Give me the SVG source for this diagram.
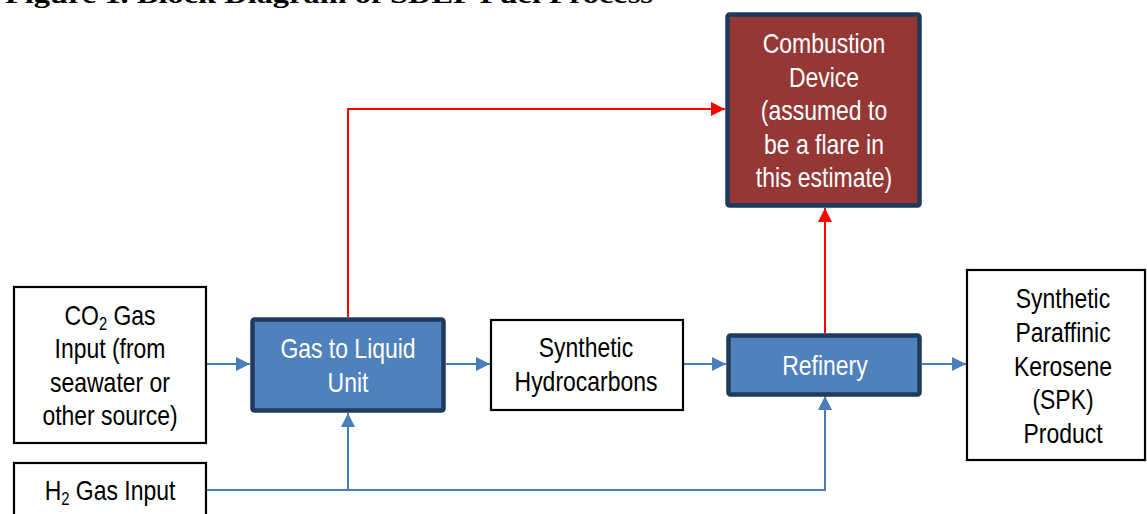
<svg xmlns="http://www.w3.org/2000/svg" width="1147" height="514" viewBox="0 0 1147 514">
<style>
.box{fill:#ffffff;stroke:#000000;stroke-width:2.2}
.blue{fill:#4F81BD;stroke:#1F3A5C;stroke-width:4.5}
.red{fill:#953735;stroke:#1F3A5C;stroke-width:4.5}
.t{font-family:"Liberation Sans Narrow","Arial Narrow","Liberation Sans",sans-serif;font-size:28px;text-anchor:middle;fill:#000000}
.tw{fill:#FFFFFF}
.bl{fill:none;stroke:#4A7EBB;stroke-width:2}
.rl{fill:none;stroke:#FF0000;stroke-width:2}
.title{font-family:"Liberation Serif","Times New Roman",serif;font-weight:bold;font-size:25px;fill:#000000}
</style>
<defs>
<marker id="ab" viewBox="0 0 10 10" refX="10" refY="5" markerWidth="14" markerHeight="14" markerUnits="userSpaceOnUse" orient="auto"><path d="M0,0 L10,5 L0,10 z" fill="#4A7EBB"/></marker>
<marker id="ar" viewBox="0 0 10 10" refX="10" refY="5" markerWidth="14" markerHeight="14" markerUnits="userSpaceOnUse" orient="auto"><path d="M0,0 L10,5 L0,10 z" fill="#FF0000"/></marker>
</defs>
<text class="title" x="5" y="3" textLength="648" lengthAdjust="spacingAndGlyphs">Figure 1. Block Diagram of SDEF Fuel Process</text>
<g id="connectors">
<path class="bl" d="M206,364 L250,364" marker-end="url(#ab)"/>
<path class="bl" d="M446,364 L490,364" marker-end="url(#ab)"/>
<path class="bl" d="M683,364 L726,364" marker-end="url(#ab)"/>
<path class="bl" d="M922,364 L966,364" marker-end="url(#ab)"/>
<path class="bl" d="M206,490 L825,490 L825,396" marker-end="url(#ab)"/>
<path class="bl" d="M348,490 L348,413" marker-end="url(#ab)"/>
<path class="rl" d="M348,317 L348,109 L725,109" marker-end="url(#ar)"/>
<path class="rl" d="M825,333 L825,208" marker-end="url(#ar)"/>
</g>
<g id="co2">
<rect class="box" x="14" y="287" width="192" height="156"/>
<g transform="translate(110,0) scale(0.82,1)">
<text class="t" x="0" y="325">CO<tspan font-size="18" dy="5">2</tspan><tspan dy="-5"> Gas</tspan></text>
<text class="t" x="0" y="358">Input (from</text>
<text class="t" x="0" y="392">seawater or</text>
<text class="t" x="0" y="425">other source)</text>
</g>
</g>
<g id="h2">
<rect class="box" x="14" y="463" width="192" height="70"/>
<g transform="translate(110,0) scale(0.82,1)">
<text class="t" x="0" y="500">H<tspan font-size="18" dy="5">2</tspan><tspan dy="-5"> Gas Input</tspan></text>
</g>
</g>
<g id="gtl">
<rect class="blue" x="252.5" y="319.5" width="191" height="91" rx="2"/>
<g transform="translate(348,0) scale(0.82,1)">
<text class="t tw" x="0" y="358">Gas to Liquid</text>
<text class="t tw" x="0" y="392">Unit</text>
</g>
</g>
<g id="synhc">
<rect class="box" x="491" y="320" width="192" height="90"/>
<g transform="translate(586,0) scale(0.82,1)">
<text class="t" x="0" y="357">Synthetic</text>
<text class="t" x="0" y="391">Hydrocarbons</text>
</g>
</g>
<g id="refinery">
<rect class="blue" x="728.5" y="335.5" width="191" height="59" rx="2"/>
<g transform="translate(825,0) scale(0.82,1)">
<text class="t tw" x="0" y="375">Refinery</text>
</g>
</g>
<g id="spk">
<rect class="box" x="967" y="270" width="178" height="190"/>
<g transform="translate(1063,0) scale(0.82,1)">
<text class="t" x="0" y="308">Synthetic</text>
<text class="t" x="0" y="342">Paraffinic</text>
<text class="t" x="0" y="376">Kerosene</text>
<text class="t" x="0" y="409">(SPK)</text>
<text class="t" x="0" y="443">Product</text>
</g>
</g>
<g id="combustion">
<rect class="red" x="727.5" y="14.5" width="192" height="191" rx="2"/>
<g transform="translate(824,0) scale(0.82,1)">
<text class="t tw" x="0" y="53">Combustion</text>
<text class="t tw" x="0" y="87">Device</text>
<text class="t tw" x="0" y="120">(assumed to</text>
<text class="t tw" x="0" y="154">be a flare in</text>
<text class="t tw" x="0" y="187">this estimate)</text>
</g>
</g>
</svg>
